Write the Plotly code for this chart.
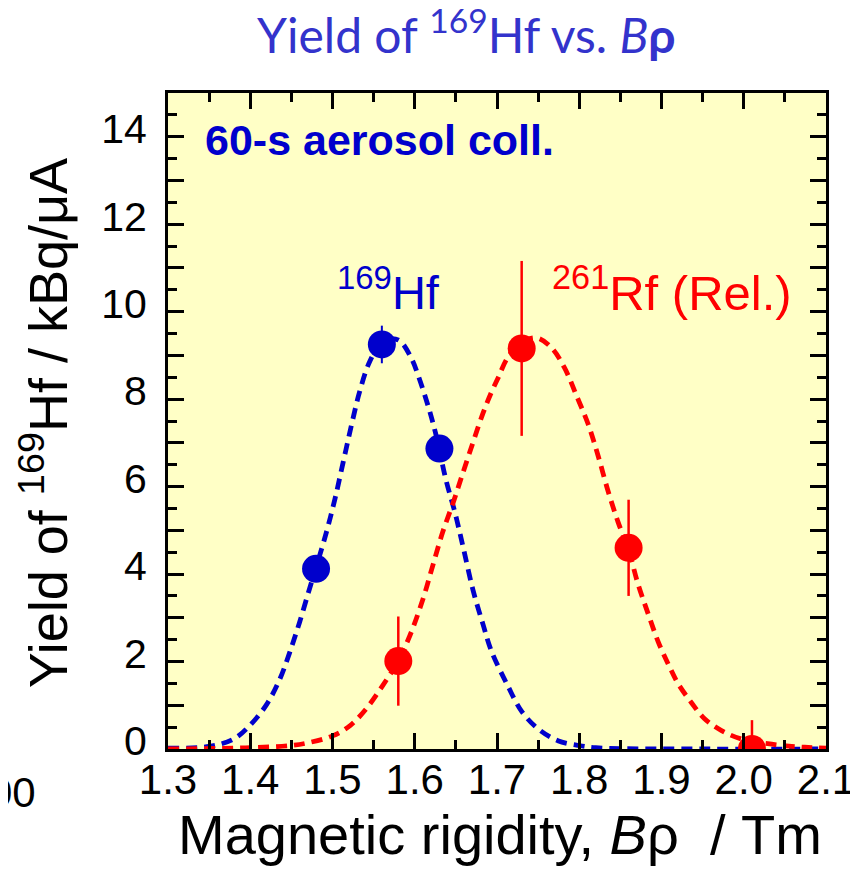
import plotly.graph_objects as go

# Measured points
hf_x = [1.48, 1.56, 1.63]
hf_y = [4.12, 9.25, 6.87]
hf_err = [0.15, 0.43, 0.2]

rf_x = [1.58, 1.73, 1.86, 2.01]
rf_y = [2.01, 9.16, 4.60, 0.0]
rf_err = [1.02, 2.0, 1.1, 0.66]

# Fitted curves
hf_fit_x = [1.30, 1.35, 1.38, 1.40, 1.42, 1.436, 1.448, 1.46, 1.472, 1.48, 1.4925, 1.503,
            1.513, 1.523, 1.533, 1.545, 1.56, 1.571, 1.582, 1.596, 1.604, 1.616, 1.626,
            1.638, 1.649, 1.659, 1.671, 1.683, 1.693, 1.713, 1.73, 1.75, 1.774, 1.80,
            1.82, 1.85, 1.95, 2.10]
hf_fit_y = [0.02, 0.06, 0.23, 0.55, 1.02, 1.60, 2.21, 2.90, 3.66, 4.15, 4.95, 5.72,
            6.56, 7.40, 8.17, 8.85, 9.31, 9.38, 9.33, 8.93, 8.55, 7.86, 7.17,
            6.15, 5.40, 4.60, 3.62, 2.85, 2.25, 1.45, 0.86, 0.46, 0.19, 0.08,
            0.03, 0.01, 0.0, 0.0]

rf_fit_x = [1.30, 1.40, 1.45, 1.472, 1.50, 1.521, 1.541, 1.561, 1.58, 1.594, 1.61, 1.622,
            1.634, 1.647, 1.659, 1.671, 1.683, 1.693, 1.701, 1.713, 1.73, 1.748, 1.766,
            1.782, 1.798, 1.811, 1.823, 1.835, 1.847, 1.86, 1.871, 1.884, 1.896, 1.908,
            1.92, 1.936, 1.952, 1.973, 1.997, 2.034, 2.074, 2.10]
rf_fit_y = [0.0, 0.03, 0.08, 0.15, 0.30, 0.53, 0.92, 1.45, 2.02, 2.59, 3.43, 4.20,
            4.96, 5.65, 6.34, 7.02, 7.68, 8.15, 8.47, 8.95, 9.30, 9.40, 9.18,
            8.72, 8.02, 7.42, 6.70, 5.90, 5.20, 4.55, 3.80, 3.08, 2.45, 1.95,
            1.50, 1.07, 0.70, 0.42, 0.23, 0.11, 0.04, 0.02]

x_ticks = [1.3, 1.4, 1.5, 1.6, 1.7, 1.8, 1.9, 2.0, 2.1]
y_major = list(range(0, 16))
y_labels = [str(v) if v % 2 == 0 and v <= 14 else "" for v in y_major]

BLUE = "#0000CC"
RED = "#FF0000"
AX = "Liberation Sans, Arial, sans-serif"

fig = go.Figure()

fig.add_trace(go.Scatter(x=hf_fit_x, y=hf_fit_y, mode="lines",
                         line=dict(color=BLUE, width=4.8, dash="11px,7px", shape="spline", smoothing=1.0),
                         hoverinfo="skip", showlegend=False))
fig.add_trace(go.Scatter(x=rf_fit_x, y=rf_fit_y, mode="lines",
                         line=dict(color=RED, width=4.8, dash="11px,7px", shape="spline", smoothing=1.0),
                         hoverinfo="skip", showlegend=False))

fig.add_trace(go.Scatter(x=hf_x, y=hf_y, mode="markers",
                         marker=dict(color=BLUE, size=28, line=dict(width=0)),
                         error_y=dict(type="data", array=hf_err, color=BLUE, thickness=2, width=0),
                         showlegend=False))
fig.add_trace(go.Scatter(x=rf_x, y=rf_y, mode="markers",
                         marker=dict(color=RED, size=28, line=dict(width=0)),
                         error_y=dict(type="data", array=rf_err, color=RED, thickness=2.5, width=0),
                         showlegend=False, cliponaxis=True))

fig.update_xaxes(range=[1.3, 2.1], tickvals=x_ticks, ticktext=[f"{v:.1f}" for v in x_ticks],
                 ticks="inside", ticklen=16, tickwidth=2.5, tickcolor="black",
                 minor=dict(dtick=0.05, ticks="inside", ticklen=9, tickwidth=2.5, tickcolor="black"),
                 showline=True, linecolor="black", linewidth=3, mirror="ticks",
                 showgrid=False, zeroline=False, ticklabelstandoff=-8,
                 tickfont=dict(family=AX, size=42, color="black"))
fig.update_yaxes(range=[0, 15], tickvals=y_major, ticktext=y_labels,
                 ticks="inside", ticklen=16, tickwidth=2.5, tickcolor="black",
                 minor=dict(dtick=0.5, ticks="inside", ticklen=9, tickwidth=2.5, tickcolor="black"),
                 showline=True, linecolor="black", linewidth=3, mirror="ticks",
                 showgrid=False, zeroline=False, ticklabelstandoff=10, ticklabelshift=-8,
                 tickfont=dict(family=AX, size=41, color="black"))

annots = [
    dict(text="Yield of <sup>169</sup>Hf vs. <i>B</i><b>ρ</b>", x=0.453, y=1.094,
         xref="paper", yref="paper", xanchor="center", yanchor="middle",
         font=dict(family="Lato, Open Sans, sans-serif", size=48, color="#3333CC")),
    dict(text="<b>60-s aerosol coll.</b>", x=1.3425, y=13.92, xref="x", yref="y",
         xanchor="left", yanchor="middle", font=dict(family=AX, size=43, color=BLUE)),
    dict(text="<sup>169</sup>Hf", x=1.503, y=10.52, xref="x", yref="y",
         xanchor="left", yanchor="middle", font=dict(family=AX, size=47, color=BLUE)),
    dict(text="<sup>261</sup>Rf (Rel.)", x=1.765, y=10.52, xref="x", yref="y",
         xanchor="left", yanchor="middle", font=dict(family=AX, size=49, color=RED)),
    dict(text="Magnetic rigidity, <i>B</i>ρ\u00a0\u00a0/ Tm", x=0.505, y=-0.131,
         xref="paper", yref="paper", xanchor="center", yanchor="middle",
         font=dict(family=AX, size=56, color="black")),
    dict(text="Yield of <sup>169</sup>Hf / kBq/μA", x=-0.188, y=0.497, textangle=-90,
         xref="paper", yref="paper", xanchor="center", yanchor="middle",
         font=dict(family=AX, size=54, color="black")),
    dict(text="00", x=-0.1976, y=-0.067, xref="paper", yref="paper",
         xanchor="right", yanchor="middle", font=dict(family=AX, size=42, color="black")),
]
for a in annots:
    a["showarrow"] = False
fig.update_layout(annotations=annots)

fig.update_layout(width=858, height=885,
                  margin=dict(l=160, r=40, t=85, b=144, autoexpand=False),
                  plot_bgcolor="#FFFFC6", paper_bgcolor="white",
                  showlegend=False)

fig.write_html("out.html")
